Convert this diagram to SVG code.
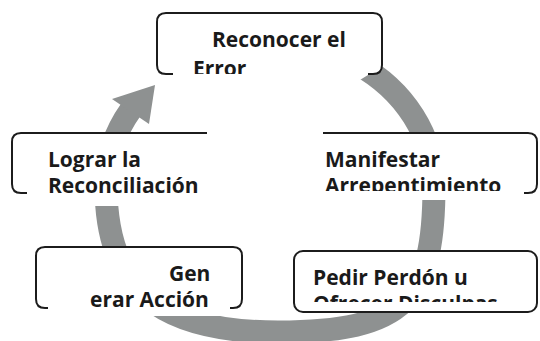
<svg xmlns="http://www.w3.org/2000/svg" width="540" height="341" viewBox="0 0 540 341">
<style>
.frame{fill:#fff}
.border{fill:none;stroke:#1c1c1c;stroke-width:2}
.box{fill:#fff;stroke:#1c1c1c;stroke-width:2}
.t{font-family:"Open Sans","Noto Sans",sans-serif;font-weight:700;font-size:21px;fill:#1a1a1a}
.arc{fill:none;stroke:#8e9191;stroke-width:23}
.head{fill:#8e9191}
</style>
<defs>
<clipPath id="c1"><rect x="150" y="0" width="240" height="74"/></clipPath>
<clipPath id="c3"><rect x="320" y="130" width="220" height="61"/></clipPath>
<clipPath id="c5"><rect x="290" y="250" width="250" height="52"/></clipPath>
</defs>
<rect width="540" height="341" fill="#fff"/>
<g id="connectors">
<path class="arc" d="M356.9,63.9 A164,144 0 0 1 434,186 C434,300 405,332 278,332 C160,332 106,290 106,186 A164,144 0 0 1 130.9,109.7"/>
<polygon class="head" points="155,85 112,99 149,124"/>
<polygon class="frame" points="355,83 390,61.5 390,40 330,40 330,83"/>
</g>
<g id="node1">
<rect class="frame" x="157" y="13" width="225" height="61" rx="9"/>
<path class="border" d="M173,74 H166 Q157,74 157,65 V22 Q157,13 166,13 H373 Q382,13 382,22 V65 Q382,74 373,74 H368"/>
<g clip-path="url(#c1)"><text class="t"><tspan x="212" y="47">Reconocer el</tspan><tspan x="193" y="76">Error</tspan></text></g>
</g>
<g id="node2">
<rect class="frame" x="12" y="133" width="196" height="73"/>
<path class="border" d="M207,133 H21 Q12,133 12,142 V184 Q12,193 21,193 H27"/>
<text class="t"><tspan x="48" y="167">Lograr la</tspan><tspan x="48" y="193">Reconciliación</tspan></text>
</g>
<g id="node3">
<rect class="frame" x="323" y="133" width="215" height="67"/>
<path class="border" d="M323,133 H528 Q537,133 537,142 V184 Q537,193 528,193 H524"/>
<g clip-path="url(#c3)"><text class="t"><tspan x="325" y="167">Manifestar</tspan><tspan x="325" y="193">Arrepentimiento</tspan></text></g>
</g>
<g id="node4">
<rect class="frame" x="36" y="247" width="206" height="69"/>
<path class="border" d="M48,308 H45 Q36,308 36,299 V256 Q36,247 45,247 H233 Q242,247 242,256 V299 Q242,308 233,308 H230"/>
<text class="t"><tspan x="169" y="281">Gen</tspan><tspan x="90" y="307">erar Acción</tspan></text>
</g>
<g id="node5">
<rect class="box" x="294" y="251" width="243" height="61" rx="9"/>
<g clip-path="url(#c5)"><text class="t"><tspan x="313" y="285">Pedir Perdón u</tspan><tspan x="313" y="311">Ofrecer Disculpas</tspan></text></g>
</g>
</svg>
